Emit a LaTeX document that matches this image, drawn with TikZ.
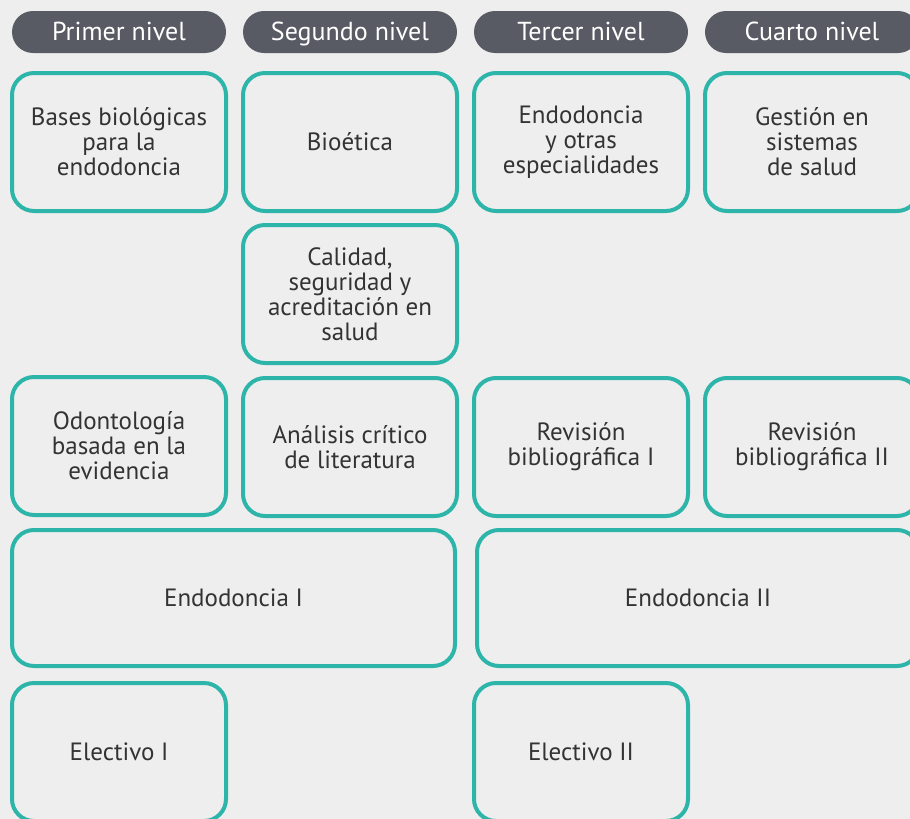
\documentclass[tikz,border=0pt]{standalone}
\usepackage{fontspec}
\setmainfont{PT Sans}
\usepackage{xcolor}
\definecolor{bgColor}{rgb}{0.933,0.933,0.933}
\definecolor{headColor}{rgb}{0.345,0.357,0.388}
\definecolor{boxColor}{rgb}{0.18,0.71,0.667}
\definecolor{txtColor}{rgb}{0.2,0.2,0.2}
\usepackage{tikz}

\begin{document}
\begin{tikzpicture}[x=1pt,y=-1pt,
  head/.style={fill=headColor,text=white,rounded corners=21pt,
    minimum width=214pt,minimum height=42pt,inner sep=0pt,
    text height=17pt,text depth=0pt,
    font=\fontsize{26}{28}\selectfont},
  course/.style={draw=boxColor,line width=4pt,fill=bgColor,text=txtColor,
    rounded corners=22pt,minimum width=214pt,minimum height=138pt,
    inner sep=0pt,align=center,font=\fontsize{25}{25}\selectfont}]
\useasboundingbox (0,0) rectangle (910,819);
\clip (0,0) rectangle (910,819);
\fill[bgColor] (0,0) rectangle (910,819);
%
\node[head] (h1) at (119,32) {Primer nivel};
\node[head] (h2) at (350,32) {Segundo nivel};
\node[head] (h3) at (581,32) {Tercer nivel};
\node[head] (h4) at (812,32) {Cuarto nivel};
%
\node[course] (bases) at (119,142) {Bases biológicas\\para la\\endodoncia};
\node[course] (bioetica) at (350,142) {Bioética};
\node[course] (otras) at (581,142) {Endodoncia\\y otras\\especialidades};
\node[course] (gestion) at (812,142) {Gestión en\\sistemas\\de salud};
%
\node[course] (calidad) at (350,294) {Calidad,\\seguridad y\\acreditación en\\salud};
%
\node[course] (obe) at (119,446) {Odontología\\basada en la\\evidencia};
\node[course] (analisis) at (350,447) {Análisis crítico\\de literatura};
\node[course] (rev1) at (581,447) {Revisión\\bibliográfica I};
\node[course] (rev2) at (812,447) {Revisión\\bibliográfica II};
%
\node[course,minimum width=443pt,minimum height=136pt] (endo1) at (233.5,598) {Endodoncia I};
\node[course,minimum width=442pt,minimum height=136pt] (endo2) at (698,598) {Endodoncia II};
%
\node[course] (elec1) at (119,752) {Electivo I};
\node[course] (elec2) at (581,752) {Electivo II};
\end{tikzpicture}
\end{document}
